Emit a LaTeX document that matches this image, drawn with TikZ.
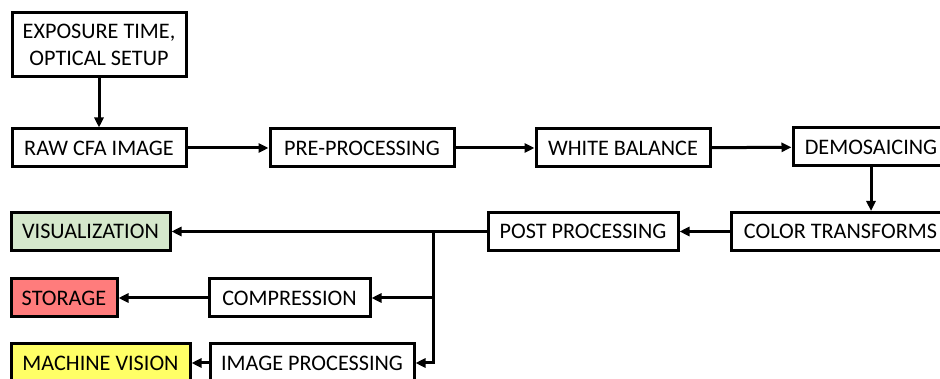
\documentclass[tikz,border=0pt]{standalone}
\usepackage{fontspec}
\setmainfont{Carlito}
\usetikzlibrary{arrows.meta}
\definecolor{visgreen}{HTML}{D5E8CC}
\definecolor{storred}{HTML}{FF7C7C}
\definecolor{mvyellow}{HTML}{FFFF66}
\tikzset{
  box/.style={draw=black, line width=3pt, inner sep=0pt, minimum height=38pt, align=center,
    font=\fontsize{22.2}{27}\selectfont},
  conn/.style={line width=3pt, -{Triangle[length=10pt,width=9pt]}},
  plain/.style={line width=3pt}
}
\begin{document}
\begin{tikzpicture}[x=1pt,y=-1pt]
\useasboundingbox (0,0) rectangle (940,379);
\clip (0,0) rectangle (940,379);
\node[box, minimum width=174pt, minimum height=64pt] (exp) at (99,45) {EXPOSURE TIME,\\OPTICAL SETUP};
\node[box, minimum width=174pt] (raw) at (99,148) {RAW CFA IMAGE};
\node[box, minimum width=184pt] (pre) at (362,148) {PRE-PROCESSING};
\node[box, minimum width=174pt] (wb) at (623,148) {WHITE BALANCE};
\node[box, minimum width=156pt] (dem) at (871,147) {DEMOSAICING};
\node[box, minimum width=219pt] (ct) at (840.5,231.5) {COLOR TRANSFORMS};
\node[box, minimum width=190pt] (post) at (583,231.5) {POST PROCESSING};
\node[box, minimum width=159pt, fill=visgreen] (vis) at (90.5,231.5) {VISUALIZATION};
\node[box, minimum width=106pt, fill=storred] (stor) at (64,298) {STORAGE};
\node[box, minimum width=161pt] (comp) at (289.5,298) {COMPRESSION};
\node[box, minimum width=179pt, fill=mvyellow] (mv) at (100.5,363) {MACHINE VISION};
\node[box, minimum width=204pt] (ip) at (312,363) {IMAGE PROCESSING};
\coordinate (br) at (433,231.5);
\draw[conn] (exp.south) -- (raw.north);
\draw[conn] (raw) -- (pre);
\draw[conn] (pre) -- (wb);
\draw[conn] (wb) -- (dem);
\draw[conn] (dem.south) -- (dem.south |- ct.north);
\draw[conn] (ct) -- (post);
\draw[conn] (post) -- (vis);
\draw[plain] (br) -- (br |- ip.east);
\draw[conn] (br |- comp.east) -- (comp.east);
\draw[conn] ([xshift=1.5pt]br |- ip.east) -- (ip.east);
\draw[conn] (comp) -- (stor);
\draw[conn] (ip) -- (mv);
\end{tikzpicture}
\end{document}
